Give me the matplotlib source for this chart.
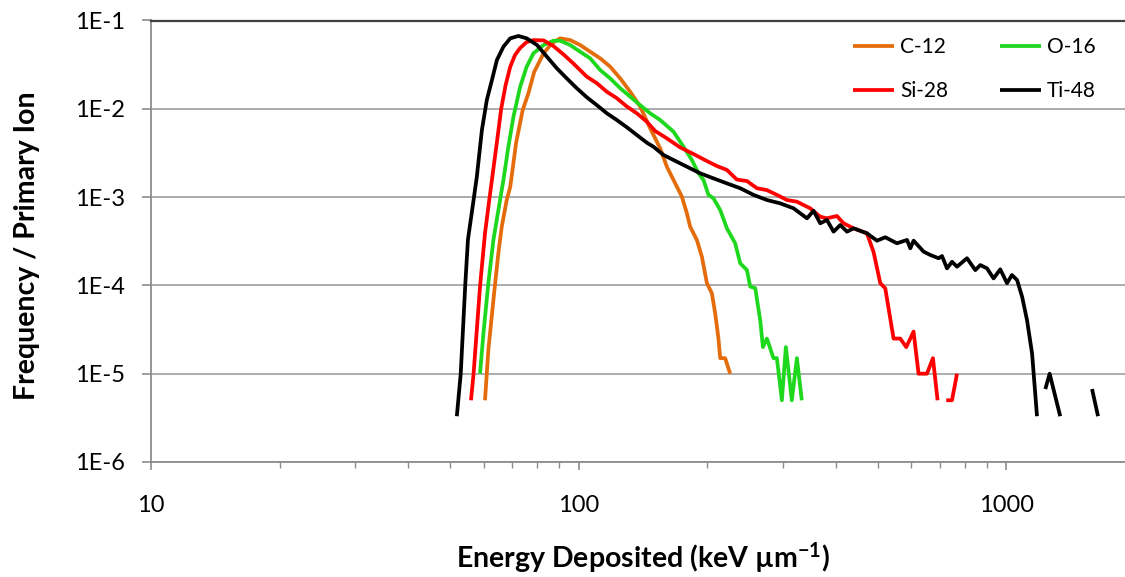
import numpy as np
import matplotlib
matplotlib.use("Agg")
import matplotlib.pyplot as plt
from matplotlib.ticker import FixedLocator, LogLocator, NullFormatter

plt.rcParams['font.family'] = ['Lato', 'DejaVu Sans']
plt.rcParams['mathtext.fontset'] = 'custom'
plt.rcParams['mathtext.rm'] = 'Lato:bold'
plt.rcParams['mathtext.default'] = 'rm'

nan = np.nan

# energy deposited (keV/um) and frequency per primary ion, one pair per ion
c12_x = [60.4, 61.5, 63.2, 64.9, 66.1, 67.9, 69.2, 71.4, 74.0, 76.3, 78.7, 82.8, 86.6,
         90.5, 95.5, 100.8, 106.4, 112.3, 118.5, 125.1, 132.0, 139.3, 147.0, 155.1,
         160.8, 166.7, 174.4, 179.1, 182.3, 189.0, 194.2, 199.5, 204.9, 208.6, 212.3,
         214.3, 220.1, 226.1]
c12_y = [5e-6, 1.86e-5, 6.84e-5, 2.31e-4, 4.62e-4, 9.3e-4, 1.31e-3, 4.1e-3, 9.7e-3, 1.5e-2,
         2.61e-2, 4.25e-2, 5.52e-2, 6.28e-2, 6.01e-2, 5.28e-2, 4.43e-2, 3.73e-2, 3.0e-2,
         2.21e-2, 1.56e-2, 1.06e-2, 6.01e-3, 3.57e-3, 2.21e-3, 1.56e-3, 1.01e-3, 6.56e-4,
         4.62e-4, 3.27e-4, 2.11e-4, 1.06e-4, 8.14e-5, 4.83e-5, 2.5e-5, 1.5e-5, 1.5e-5, 1e-5]

o16_x = [58.8, 59.9, 61.5, 63.2, 65.5, 66.7, 68.5, 70.4, 73.0, 75.6, 78.4, 82.8, 87.3,
         90.5, 95.5, 100.8, 106.4, 112.3, 118.5, 125.1, 132.0, 139.3, 147.0, 155.1,
         166.7, 175.9, 184.0, 190.7, 195.9, 201.2, 206.7, 214.3, 222.2, 232.3, 238.7,
         247.5, 251.9, 258.8, 265.9, 269.7, 275.6, 285.5, 290.8, 298.7, 305.2, 315.1,
         323.9, 332.5]
o16_y = [1e-5, 2.87e-5, 1.06e-4, 3.27e-4, 9.27e-4, 1.56e-3, 3.72e-3, 8.14e-3, 1.78e-2,
         3.0e-2, 4.25e-2, 5.28e-2, 5.9e-2, 5.9e-2, 5.28e-2, 4.43e-2, 3.73e-2, 2.75e-2,
         2.21e-2, 1.71e-2, 1.37e-2, 1.10e-2, 8.89e-3, 7.47e-3, 5.5e-3, 3.72e-3, 2.63e-3,
         1.86e-3, 1.56e-3, 1.06e-3, 9.69e-4, 7.14e-4, 4.43e-4, 3.0e-4, 1.78e-4, 1.49e-4,
         9.7e-5, 9.3e-5, 4e-5, 2e-5, 2.5e-5, 1.5e-5, 1.5e-5, 5e-6, 2e-5, 5e-6, 1.5e-5, 5e-6]

si28_x = [56.0, 56.8, 58.8, 60.4, 61.8, 64.5, 65.9, 67.5, 69.2, 71.0, 73.0, 75.6, 78.4,
          82.8, 87.3, 92.2, 97.2, 104.5, 110.3, 116.4, 122.8, 129.7, 136.8, 144.4,
          151.0, 160.8, 172.8, 185.5, 199.5, 210.5, 222.2, 234.4, 247.5, 261.2, 275.5,
          290.8, 306.9, 323.9, 347.9, 367.2, 380.7, 401.8, 416.4, 439.4, 472.3, 489.4,
          507.4, 521.2, 545.1, 565.1, 583.6, 607.0, 623.6, 652.4, 673.8, 690.8, nan,
          723.9, 746.5, 767.0]
si28_y = [5e-6, 1e-5, 9.7e-5, 3.89e-4, 9.27e-4, 4.43e-3, 1.0e-2, 1.86e-2, 3.0e-2, 4.07e-2,
          4.89e-2, 5.7e-2, 6.0e-2, 5.95e-2, 5.14e-2, 4.12e-2, 3.26e-2, 2.31e-2, 1.95e-2,
          1.56e-2, 1.32e-2, 1.06e-2, 8.89e-3, 7.14e-3, 5.6e-3, 4.63e-3, 3.65e-3, 3.08e-3,
          2.56e-3, 2.25e-3, 2.03e-3, 1.58e-3, 1.52e-3, 1.26e-3, 1.20e-3, 1.06e-3, 9.27e-4,
          8.87e-4, 7.47e-4, 6.0e-4, 5.75e-4, 6.11e-4, 5.05e-4, 4.43e-4, 3.89e-4, 2.39e-4,
          1.06e-4, 9.27e-5, 2.5e-5, 2.5e-5, 2e-5, 3e-5, 1e-5, 1e-5, 1.5e-5, 5e-6, nan,
          5e-6, 5e-6, 1e-5]

ti48_x = [51.9, 53.0, 54.3, 55.1, 56.8, 57.8, 59.4, 61.0, 62.7, 64.4, 66.7, 69.2, 72.3,
          75.6, 79.9, 84.3, 88.9, 93.8, 99.0, 104.5, 110.3, 116.4, 122.8, 129.7, 136.8,
          144.4, 149.6, 157.9, 166.7, 179.1, 192.4, 206.7, 222.2, 238.7, 256.4, 275.6,
          296.0, 318.0, 342.0, 354.2, 367.3, 380.7, 394.6, 409.1, 424.2, 439.5, 472.3,
          498.5, 521.2, 555.0, 586.0, 596.5, 607.2, 640.8, 664.3, 694.7, 707.5, 726.8,
          746.6, 767.0, 809.4, 846.5, 869.6, 901.5, 933.9, 968.2, 1004, 1031, 1060, 1089,
          1118, 1149, 1180, nan, 1234, 1263, 1337, nan, 1587, 1639]
ti48_y = [3.3e-6, 1e-5, 1e-4, 3.3e-4, 9.3e-4, 1.7e-3, 5.75e-3, 1.26e-2, 2.12e-2, 3.57e-2,
          5.05e-2, 6.28e-2, 6.68e-2, 6.28e-2, 5.28e-2, 3.89e-2, 2.88e-2, 2.21e-2, 1.71e-2,
          1.35e-2, 1.10e-2, 8.89e-3, 7.47e-3, 6.17e-3, 5.05e-3, 4.13e-3, 3.72e-3, 3.0e-3,
          2.63e-3, 2.21e-3, 1.86e-3, 1.63e-3, 1.43e-3, 1.26e-3, 1.06e-3, 9.27e-4, 8.5e-4,
          7.47e-4, 5.75e-4, 7.0e-4, 5.05e-4, 5.51e-4, 4.06e-4, 4.83e-4, 4.06e-4, 4.43e-4,
          3.89e-4, 3.21e-4, 3.51e-4, 3.0e-4, 3.27e-4, 2.63e-4, 3.21e-4, 2.41e-4, 2.21e-4,
          2.03e-4, 2.15e-4, 1.56e-4, 1.85e-4, 1.63e-4, 2.03e-4, 1.49e-4, 1.70e-4, 1.56e-4,
          1.20e-4, 1.52e-4, 1.06e-4, 1.31e-4, 1.15e-4, 7.45e-5, 4.06e-5, 1.7e-5, 3.3e-6, nan,
          6.7e-6, 1e-5, 3.3e-6, nan, 6.7e-6, 3.3e-6]

labels = ["C-12", "O-16", "Si-28", "Ti-48"]
colors = ["#E46C0A", "#1ED81E", "#FF0000", "#000000"]
y_ticks = [1e-6, 1e-5, 1e-4, 1e-3, 1e-2, 1e-1]
y_tick_labels = ["1E-6", "1E-5", "1E-4", "1E-3", "1E-2", "1E-1"]
x_ticks = [10, 100, 1000]
x_tick_labels = ["10", "100", "1000"]

fig = plt.figure(figsize=(11.25, 5.77), dpi=100)
ax = fig.add_axes([151 / 1125, 1 - 462 / 577, 984 / 1125, 441.5 / 577])

series = [(c12_x, c12_y), (o16_x, o16_y), (si28_x, si28_y), (ti48_x, ti48_y)]
lines = []
for (xs, ys), lab, col in zip(series, labels, colors):
    ln, = ax.plot(xs, ys, color=col, lw=2.7, label=lab, solid_capstyle='butt')
    lines.append(ln)

ax.set_xscale('log')
ax.set_yscale('log')
ax.set_xlim(10, 2000)
ax.set_ylim(1e-6, 1e-1)

ax.yaxis.set_major_locator(FixedLocator(y_ticks))
ax.set_yticklabels(y_tick_labels)
ax.yaxis.set_minor_locator(FixedLocator([]))
ax.yaxis.set_minor_formatter(NullFormatter())
ax.xaxis.set_major_locator(FixedLocator(x_ticks))
ax.set_xticklabels(x_tick_labels)
ax.xaxis.set_minor_locator(LogLocator(base=10, subs=np.arange(2, 10)))
ax.xaxis.set_minor_formatter(NullFormatter())

ax.grid(axis='y', which='major', color='#A6A6A6', lw=1.3)
ax.set_axisbelow(True)
for side in ['left', 'bottom']:
    ax.spines[side].set_color('#8C8C8C')
    ax.spines[side].set_linewidth(1.3)
ax.spines['top'].set_color('#404040')
ax.spines['top'].set_linewidth(1.6)
ax.spines['right'].set_visible(False)

ax.tick_params(axis='y', which='major', direction='out', length=6.5, width=1.2,
               color='#8C8C8C', labelsize=17, pad=12, labelcolor='#000000')
ax.tick_params(axis='x', which='major', direction='out', length=6, width=1.2,
               color='#8C8C8C', labelsize=17, pad=18)
ax.tick_params(axis='x', which='minor', direction='out', length=4.5, width=1.0,
               color='#8C8C8C')

ax.set_xlabel('Energy Deposited (keV µm$^{-1}$)', fontsize=20.5, fontweight='bold')
ax.set_ylabel('Frequency / Primary Ion', fontsize=20.5, fontweight='bold')
ax.xaxis.set_label_coords(0.5, -0.2174)
ax.xaxis.label.set_verticalalignment('center')
ax.yaxis.set_label_coords(-0.126, 0.49)
ax.yaxis.label.set_verticalalignment('center')

# two rows: C-12 / O-16 on top, Si-28 / Ti-48 below
order = [0, 2, 1, 3]
ax.legend([lines[i] for i in order], [labels[i] for i in order],
          loc='upper left', bbox_to_anchor=(853 / 1125, 1 - 37 / 577),
          bbox_transform=fig.transFigure, ncol=2, frameon=False, fontsize=15,
          handlelength=1.95, handletextpad=0.3, columnspacing=2.5,
          labelspacing=1.15, borderaxespad=0, borderpad=0)

fig.savefig('out.png', dpi=100)
